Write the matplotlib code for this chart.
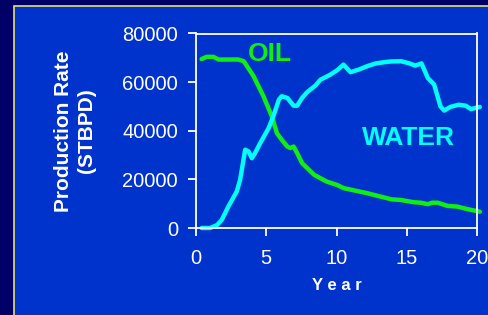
import numpy as np
import matplotlib.pyplot as plt
from matplotlib.patches import Rectangle

plt.rcParams['font.family'] = ['Liberation Sans', 'DejaVu Sans']

# oil rate (year, STBPD)
oil_year = [0.4, 0.76, 1.24, 1.6, 3.0, 3.4, 4.1, 4.8, 5.4, 5.76, 6.1, 6.5, 6.7, 6.95,
            7.2, 7.55, 8.4, 9.3, 10.05, 10.5, 12.2, 13.9, 14.6, 15.5, 16.0, 16.5,
            16.8, 17.2, 17.9, 18.6, 19.3, 20.2]
oil_rate = [69500, 70400, 70400, 69300, 69300, 68600, 62400, 54200, 45900, 39000,
            36300, 33500, 32900, 33500, 30800, 26700, 21900, 19100, 17700, 16400,
            14300, 11800, 11500, 10600, 10400, 9800, 10400, 10400, 9100, 8800,
            7800, 6700]

# water rate
water_year = [0.4, 1.0, 1.5, 1.83, 2.3, 2.9, 3.14, 3.5, 3.74, 3.98, 4.2, 4.57, 5.17,
              5.5, 5.9, 6.1, 6.5, 6.95, 7.2, 7.55, 7.9, 8.5, 8.86, 9.57, 10.05, 10.5,
              11.0, 11.6, 12.2, 12.8, 13.4, 13.86, 14.6, 15.2, 15.6, 16.05, 16.5,
              16.95, 17.4, 17.67, 18.1, 18.7, 19.2, 19.57, 20.2]
water_rate = [0, 0, 1200, 3300, 8800, 15000, 19800, 32200, 31500, 28700, 30800, 34900,
              41100, 45900, 52800, 54200, 53500, 50300, 50300, 53500, 55800, 58600,
              61000, 63100, 64900, 67200, 64100, 65200, 66600, 67700, 68200, 68500,
              68600, 67700, 66800, 67700, 61700, 59000, 50000, 48300, 49800, 50700,
              50300, 48900, 49800]

x_ticks = [0, 5, 10, 15, 20]
y_ticks = [0, 20000, 40000, 60000, 80000]

W, H = 489, 315
fig = plt.figure(figsize=(W / 100, H / 100), dpi=100, facecolor='#000066')

# blue slide panel with thin yellow edge (behind the axes)
fig.patches.append(Rectangle((14 / W, -0.05), 1.1, 1 - 6 / H + 0.05,
                             transform=fig.transFigure, facecolor='#0033CC',
                             edgecolor='#E8E070', linewidth=1.2, zorder=-5))

ax = fig.add_axes([196 / W, 1 - 228 / H, (477 - 196) / W, (228 - 33.5) / H])
ax.set_facecolor('none')

ax.plot(oil_year, oil_rate, color='#11EE11', lw=3.2, clip_on=False,
        solid_joinstyle='round', solid_capstyle='round')
ax.plot(water_year, water_rate, color='#00FFFF', lw=3.2, clip_on=False,
        solid_joinstyle='round', solid_capstyle='round')

ax.set_xlim(0, 20)
ax.set_ylim(0, 80000)
ax.set_xticks(x_ticks)
ax.set_yticks(y_ticks)
ax.set_yticklabels([str(v) for v in y_ticks])

for s in ax.spines.values():
    s.set_color('white')
    s.set_linewidth(1.3)
ax.tick_params(colors='white', labelsize=14.5, length=6, width=1.3, direction='out')
ax.tick_params(axis='y', pad=7)
ax.tick_params(axis='x', pad=9)

ax.text(3.7, 71500, 'OIL', color='#11EE11', fontsize=19, fontweight='bold',
        ha='left', va='center')
ax.text(11.8, 37000, 'WATER', color='#00FFFF', fontsize=19, fontweight='bold',
        ha='left', va='center')

fig.text(337 / W, 1 - 285 / H, 'Y e a r', color='white', fontsize=12,
         fontweight='bold', ha='center', va='center')
fig.text(75 / W, 1 - 131 / H, 'Production Rate\n(STBPD)', color='white',
         fontsize=15, fontweight='bold', rotation=90, ha='center', va='center',
         multialignment='center', linespacing=1.3)

fig.savefig('out.png', dpi=100, facecolor=fig.get_facecolor())
